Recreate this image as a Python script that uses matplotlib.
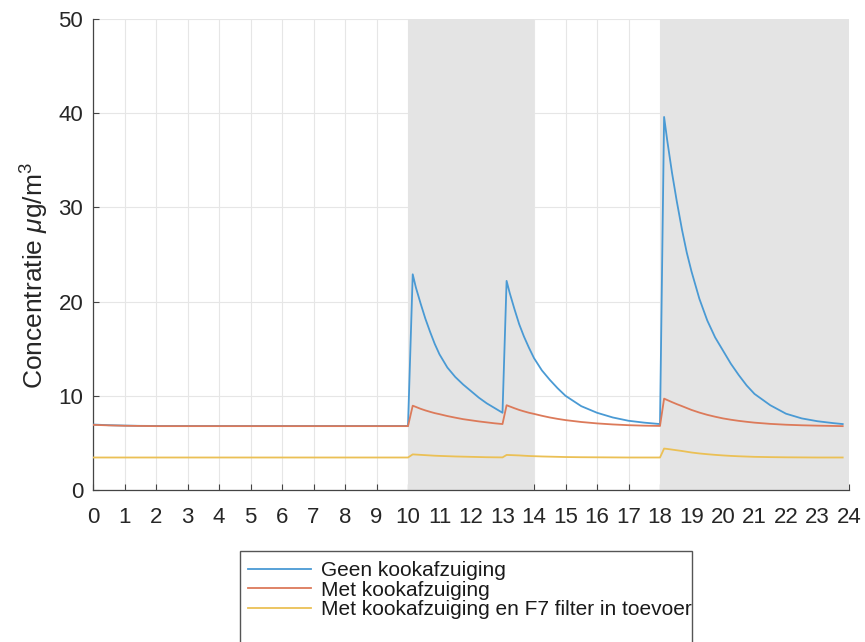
import matplotlib
matplotlib.use("Agg")
import matplotlib.pyplot as plt
from matplotlib.patches import Rectangle

# hours of the day (denser around the cooking peaks)
hours = [0, 0.5, 1, 1.5, 2, 3, 4, 5, 6, 7, 8, 9, 10.0,
         10.15, 10.25, 10.4, 10.55, 10.7, 10.85, 11.0, 11.25, 11.5, 11.75, 12.0, 12.25, 12.5, 12.75, 13.0,
         13.13, 13.23, 13.38, 13.53, 13.68, 13.84, 14.0, 14.25, 14.5, 14.75, 15.0, 15.5, 16.0, 16.5,
         17.0, 17.5, 18.0,
         18.13, 18.23, 18.38, 18.53, 18.7, 18.85, 19.0, 19.25, 19.5, 19.75, 20.0, 20.25, 20.5, 20.75,
         21.0, 21.5, 22.0, 22.5, 23.0, 23.5, 23.8]

geen = [6.95, 6.88, 6.84, 6.81, 6.8, 6.8, 6.8, 6.8, 6.8, 6.8, 6.8, 6.8, 6.8,
        22.9, 21.5, 19.8, 18.2, 16.8, 15.5, 14.4, 13.0, 12.0, 11.2, 10.5, 9.8, 9.2, 8.7, 8.2,
        22.2, 20.9, 19.2, 17.6, 16.3, 15.1, 14.0, 12.7, 11.7, 10.8, 10.0, 8.9, 8.2, 7.7,
        7.35, 7.15, 7.0,
        39.6, 37.1, 33.7, 30.7, 27.6, 25.2, 23.2, 20.3, 18.0, 16.2, 14.8, 13.4, 12.2, 11.1,
        10.2, 9.0, 8.1, 7.6, 7.3, 7.1, 7.0]

met = [6.92, 6.86, 6.82, 6.8, 6.78, 6.78, 6.78, 6.78, 6.78, 6.78, 6.78, 6.78, 6.78,
       8.95, 8.82, 8.62, 8.45, 8.3, 8.16, 8.05, 7.85, 7.68, 7.52, 7.4, 7.28, 7.18, 7.08, 7.0,
       9.0, 8.87, 8.68, 8.5, 8.35, 8.2, 8.08, 7.88, 7.7, 7.55, 7.42, 7.22, 7.07, 6.96,
       6.88, 6.83, 6.8,
       9.7, 9.55, 9.33, 9.12, 8.9, 8.7, 8.5, 8.22, 7.98, 7.78, 7.6, 7.46, 7.34, 7.24,
       7.15, 7.02, 6.93, 6.87, 6.83, 6.8, 6.78]

met_f7 = [3.45, 3.45, 3.45, 3.45, 3.45, 3.45, 3.45, 3.45, 3.45, 3.45, 3.45, 3.45, 3.45,
          3.78, 3.76, 3.73, 3.7, 3.67, 3.64, 3.62, 3.59, 3.56, 3.54, 3.52, 3.5, 3.48, 3.47, 3.46,
          3.72, 3.71, 3.69, 3.67, 3.64, 3.61, 3.59, 3.56, 3.54, 3.52, 3.5, 3.48, 3.47, 3.46,
          3.45, 3.45, 3.45,
          4.4, 4.36, 4.29, 4.22, 4.14, 4.06, 3.98, 3.88, 3.8, 3.73, 3.67, 3.62, 3.58, 3.55,
          3.52, 3.49, 3.47, 3.46, 3.45, 3.45, 3.45]

cooking = [(10, 14), (18, 24)]
labels = ["Geen kookafzuiging", "Met kookafzuiging",
          "Met kookafzuiging en F7 filter in toevoer"]
colors = ["#4a9ad4", "#dc7a5a", "#ebc055"]

plt.rcParams["font.family"] = ["Liberation Sans", "DejaVu Sans"]
plt.rcParams["mathtext.fontset"] = "custom"
plt.rcParams["mathtext.rm"] = "Liberation Sans"
plt.rcParams["mathtext.it"] = "Liberation Sans:italic"

fig = plt.figure(figsize=(8.65, 6.42), dpi=100)
ax = fig.add_axes([93 / 865, 1 - 490 / 642, 756 / 865, 471 / 642])

for start, end in cooking:
    ax.axvspan(start, end, color="#e4e4e4", lw=0, zorder=1)

lines = []
for series, lab, col in zip([geen, met, met_f7], labels, colors):
    ln, = ax.plot(hours, series, color=col, lw=1.3, label=lab, zorder=3)
    lines.append(ln)

ax.set_xlim(0, 24)
ax.set_ylim(0, 50)
ax.set_xticks(range(0, 25))
ax.set_yticks(range(0, 51, 10))
ax.set_axisbelow(True)
ax.grid(True, color="#e6e6e6", lw=0.8, zorder=0)
for side in ["top", "right"]:
    ax.spines[side].set_visible(False)
for side in ["left", "bottom"]:
    ax.spines[side].set_color("#444444")
    ax.spines[side].set_linewidth(0.9)
ax.tick_params(axis="both", direction="in", length=4.5, width=0.8,
               color="#444444", labelcolor="#262626", labelsize=16)
ax.tick_params(axis="x", pad=12)
ax.tick_params(axis="y", pad=7)
ax.set_ylabel(r"Concentratie $\mu$g/m$^3$", fontsize=19, color="#262626")
ax.yaxis.set_label_coords(-0.055, 0.456)

leg = fig.legend(handles=lines, loc="upper left",
                 bbox_to_anchor=(240 / 865, 1 - 553 / 642),
                 frameon=False, fontsize=15, handlelength=3.0,
                 handletextpad=0.5, labelspacing=0.02, borderpad=0.4,
                 borderaxespad=0)
for txt in leg.get_texts():
    txt.set_color("#1a1a1a")
fig.patches.append(Rectangle((240 / 865, -0.05), 452 / 865, (642 - 551) / 642 + 0.05,
                             transform=fig.transFigure, fill=False,
                             edgecolor="#555555", lw=1.0))

fig.savefig("out.png", dpi=100)
